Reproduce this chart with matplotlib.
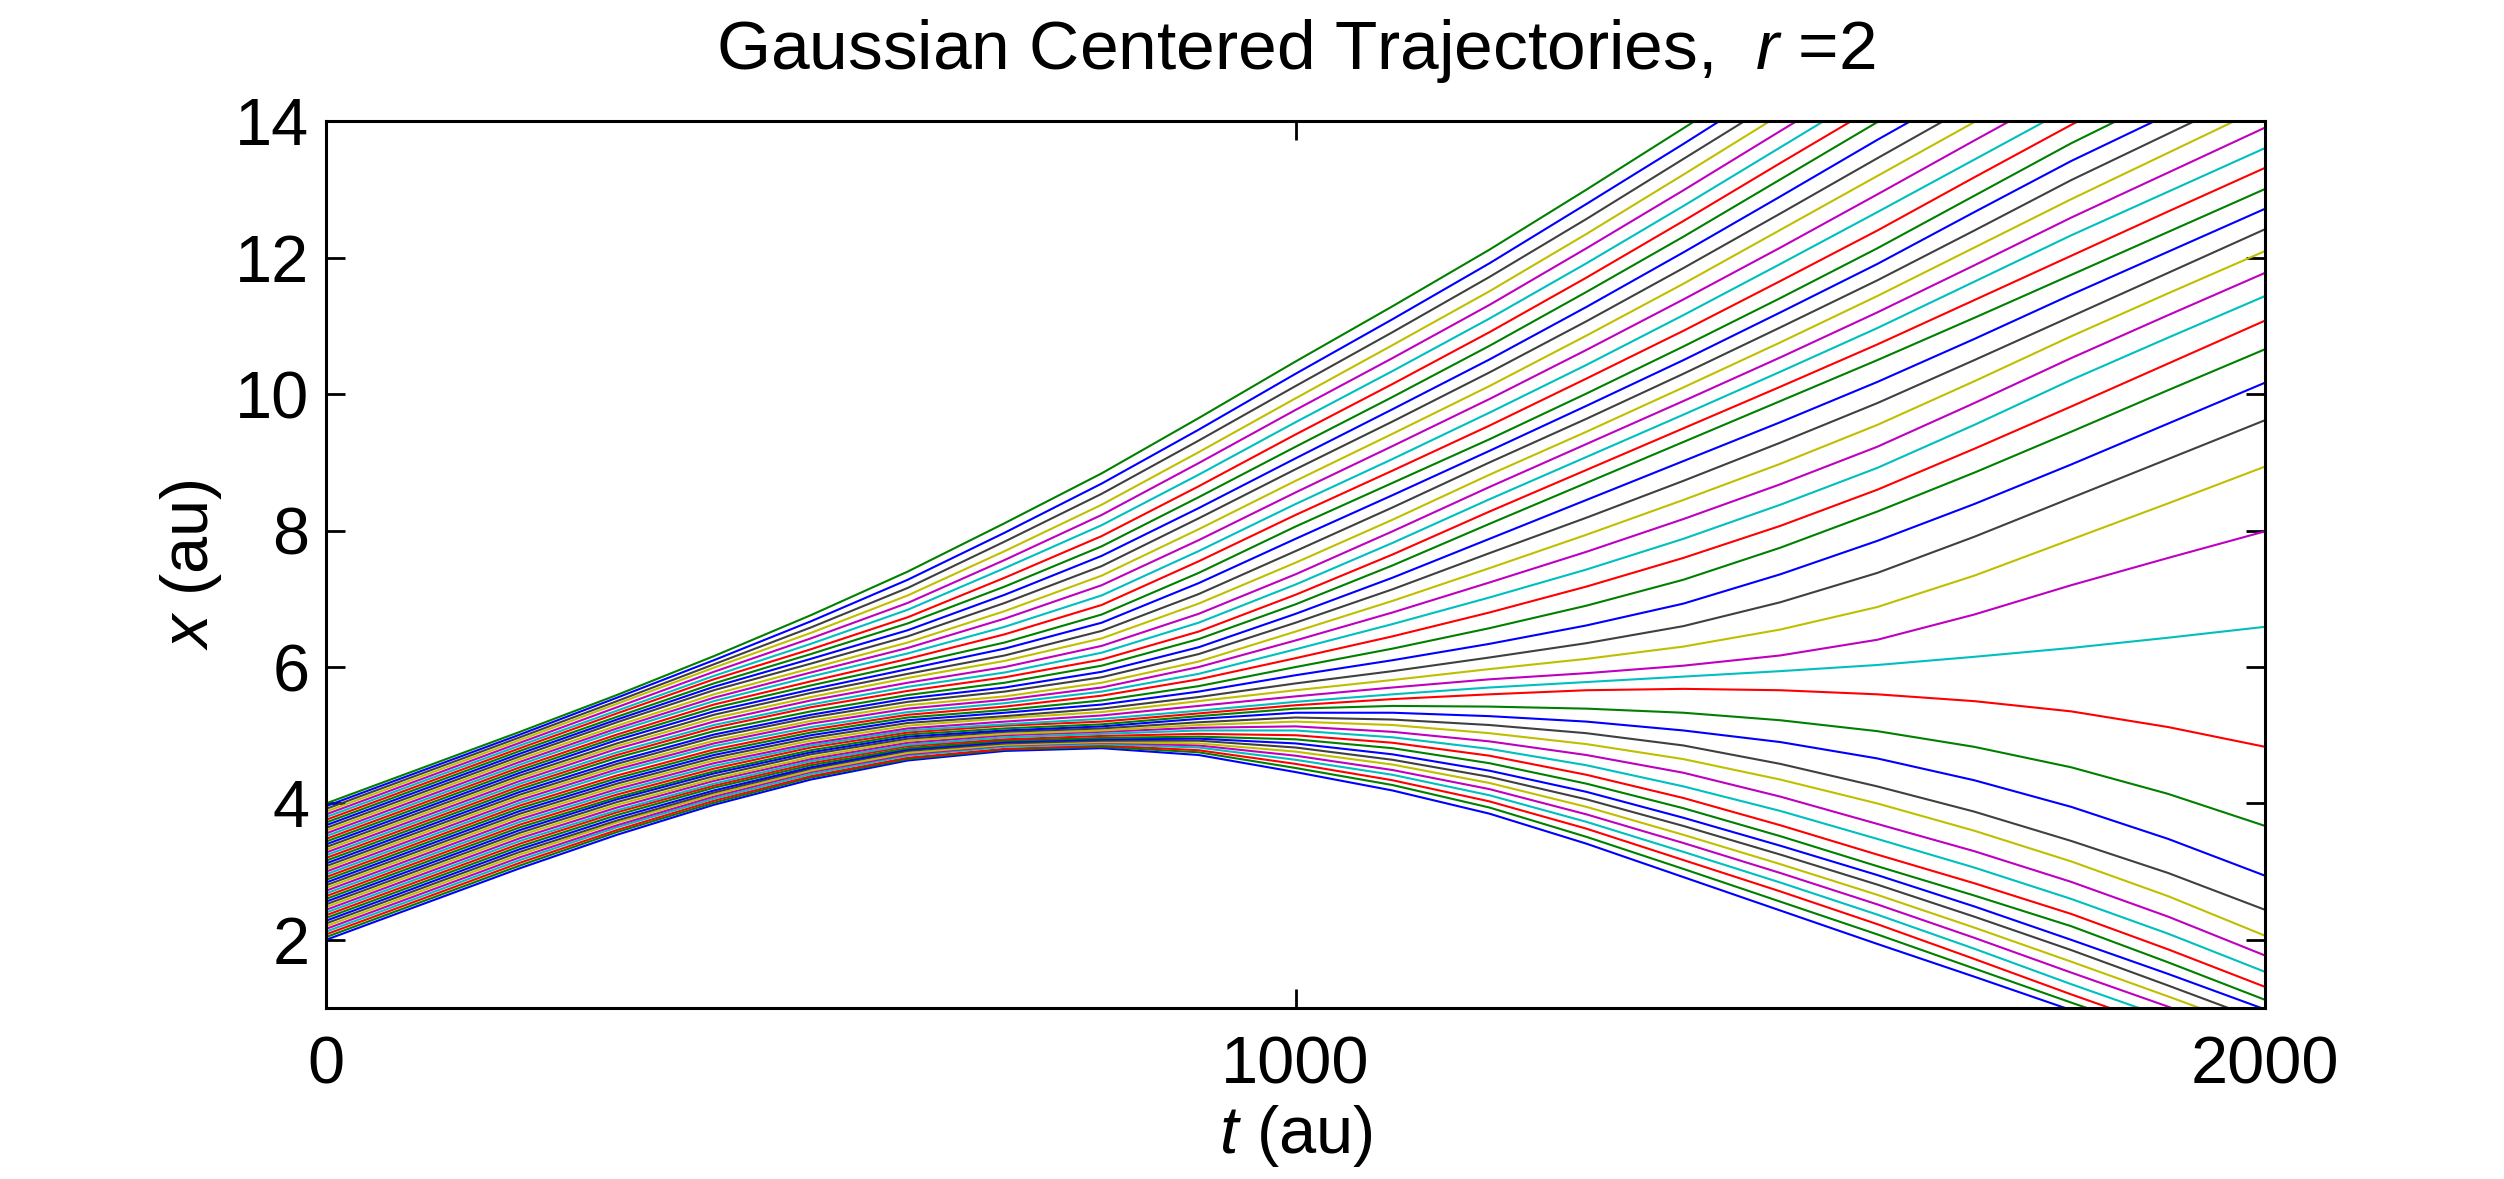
import numpy as np
import matplotlib
matplotlib.use("Agg")
import matplotlib.pyplot as plt

plt.rcParams['font.family'] = ['Liberation Sans', 'DejaVu Sans']
plt.rcParams['mathtext.fontset'] = 'custom'
plt.rcParams['mathtext.rm'] = 'Liberation Sans'
plt.rcParams['mathtext.it'] = 'Liberation Sans:italic'

# sample times (au)
t_au = [0, 200, 300, 400, 500, 600, 700, 800, 900, 1000, 1100, 1200, 1300, 1400, 1500, 1600, 1700, 1800, 1900, 2000]

# trajectory positions x (au) at each sample time, trajectory 0 (lowest) .. 50 (highest)
x_t0000 = [2.00, 2.04, 2.08, 2.12, 2.16, 2.20, 2.24, 2.28, 2.32, 2.36, 2.40, 2.44, 2.48, 2.52, 2.56, 2.60, 2.64,
           2.68, 2.72, 2.76, 2.80, 2.84, 2.88, 2.92, 2.96, 3.00, 3.04, 3.08, 3.12, 3.16, 3.20, 3.24, 3.28, 3.32,
           3.36, 3.40, 3.44, 3.48, 3.52, 3.56, 3.60, 3.64, 3.68, 3.72, 3.76, 3.80, 3.84, 3.88, 3.92, 3.96, 4.00]
x_t0200 = [3.05, 3.09, 3.13, 3.17, 3.21, 3.25, 3.29, 3.33, 3.37, 3.41, 3.45, 3.49, 3.53, 3.57, 3.61, 3.65, 3.69,
           3.73, 3.77, 3.81, 3.85, 3.89, 3.93, 3.97, 4.01, 4.05, 4.09, 4.13, 4.17, 4.21, 4.25, 4.29, 4.33, 4.37,
           4.41, 4.45, 4.49, 4.53, 4.57, 4.61, 4.65, 4.69, 4.73, 4.77, 4.81, 4.85, 4.89, 4.93, 4.97, 5.01, 5.05]
x_t0300 = [3.54, 3.58, 3.61, 3.65, 3.68, 3.72, 3.75, 3.79, 3.83, 3.87, 3.90, 3.94, 3.98, 4.02, 4.06, 4.09, 4.13,
           4.17, 4.21, 4.25, 4.29, 4.33, 4.37, 4.41, 4.46, 4.50, 4.54, 4.58, 4.62, 4.67, 4.71, 4.75, 4.80, 4.84,
           4.88, 4.93, 4.97, 5.01, 5.06, 5.10, 5.14, 5.19, 5.23, 5.27, 5.32, 5.36, 5.41, 5.46, 5.50, 5.55, 5.59]
x_t0400 = [3.98, 4.01, 4.04, 4.07, 4.10, 4.13, 4.16, 4.19, 4.23, 4.26, 4.29, 4.33, 4.36, 4.40, 4.44, 4.47, 4.51,
           4.55, 4.59, 4.63, 4.67, 4.71, 4.75, 4.79, 4.84, 4.88, 4.92, 4.97, 5.01, 5.06, 5.11, 5.15, 5.20, 5.25,
           5.30, 5.35, 5.40, 5.45, 5.50, 5.55, 5.60, 5.66, 5.71, 5.76, 5.82, 5.87, 5.93, 5.99, 6.04, 6.10, 6.16]
x_t0500 = [4.35, 4.38, 4.40, 4.43, 4.46, 4.48, 4.51, 4.53, 4.56, 4.59, 4.62, 4.65, 4.68, 4.72, 4.75, 4.78, 4.82,
           4.85, 4.88, 4.92, 4.96, 5.00, 5.04, 5.08, 5.12, 5.17, 5.21, 5.26, 5.30, 5.35, 5.41, 5.45, 5.51, 5.56,
           5.62, 5.67, 5.73, 5.79, 5.86, 5.92, 5.98, 6.05, 6.12, 6.19, 6.26, 6.34, 6.42, 6.50, 6.58, 6.67, 6.76]
x_t0600 = [4.63, 4.65, 4.67, 4.70, 4.72, 4.74, 4.77, 4.79, 4.81, 4.84, 4.86, 4.89, 4.92, 4.95, 4.98, 5.01, 5.04,
           5.07, 5.10, 5.14, 5.18, 5.22, 5.26, 5.30, 5.34, 5.39, 5.44, 5.49, 5.54, 5.59, 5.65, 5.71, 5.77, 5.84,
           5.90, 5.97, 6.04, 6.12, 6.20, 6.28, 6.36, 6.45, 6.54, 6.64, 6.73, 6.84, 6.94, 7.05, 7.16, 7.28, 7.40]
x_t0700 = [4.77, 4.79, 4.80, 4.83, 4.85, 4.86, 4.88, 4.90, 4.92, 4.94, 4.97, 5.00, 5.02, 5.05, 5.07, 5.10, 5.14,
           5.16, 5.20, 5.25, 5.28, 5.33, 5.37, 5.42, 5.47, 5.52, 5.57, 5.64, 5.70, 5.77, 5.85, 5.92, 6.00, 6.09,
           6.17, 6.27, 6.36, 6.48, 6.59, 6.71, 6.82, 6.94, 7.06, 7.18, 7.31, 7.45, 7.57, 7.70, 7.84, 7.97, 8.11]
x_t0800 = [4.81, 4.83, 4.85, 4.87, 4.89, 4.90, 4.92, 4.94, 4.96, 4.99, 5.02, 5.05, 5.07, 5.10, 5.13, 5.16, 5.20,
           5.24, 5.29, 5.34, 5.39, 5.45, 5.51, 5.58, 5.64, 5.70, 5.77, 5.85, 5.93, 6.02, 6.11, 6.21, 6.31, 6.42,
           6.53, 6.65, 6.77, 6.91, 7.05, 7.20, 7.34, 7.48, 7.63, 7.77, 7.92, 8.08, 8.23, 8.38, 8.54, 8.69, 8.84]
x_t0900 = [4.71, 4.75, 4.78, 4.82, 4.85, 4.88, 4.92, 4.95, 4.98, 5.02, 5.07, 5.11, 5.15, 5.19, 5.24, 5.28, 5.32,
           5.36, 5.43, 5.50, 5.56, 5.64, 5.72, 5.82, 5.90, 6.00, 6.08, 6.19, 6.29, 6.41, 6.52, 6.65, 6.78, 6.93,
           7.07, 7.23, 7.38, 7.55, 7.70, 7.86, 8.02, 8.18, 8.33, 8.49, 8.65, 8.82, 8.99, 9.15, 9.32, 9.48, 9.65]
x_t1000 = [4.46, 4.52, 4.58, 4.64, 4.70, 4.76, 4.82, 4.88, 4.94, 5.00, 5.07, 5.13, 5.20, 5.26, 5.33, 5.39, 5.44,
           5.49, 5.57, 5.66, 5.76, 5.88, 6.00, 6.13, 6.26, 6.39, 6.52, 6.65, 6.78, 6.92, 7.06, 7.21, 7.36, 7.53,
           7.70, 7.88, 8.06, 8.23, 8.39, 8.56, 8.73, 8.90, 9.06, 9.23, 9.41, 9.59, 9.77, 9.94, 10.12, 10.30, 10.48]
x_t1100 = [4.19, 4.27, 4.34, 4.42, 4.49, 4.57, 4.64, 4.72, 4.81, 4.89, 4.97, 5.05, 5.15, 5.23, 5.33, 5.43, 5.53,
           5.60, 5.70, 5.81, 5.94, 6.10, 6.27, 6.45, 6.63, 6.80, 6.97, 7.14, 7.31, 7.49, 7.65, 7.82, 7.99, 8.16,
           8.34, 8.52, 8.70, 8.88, 9.05, 9.24, 9.42, 9.60, 9.78, 9.96, 10.15, 10.34, 10.53, 10.72, 10.91, 11.10,
           11.29]
x_t1200 = [3.85, 3.94, 4.03, 4.12, 4.21, 4.30, 4.39, 4.48, 4.59, 4.70, 4.80, 4.91, 5.03, 5.15, 5.28, 5.42, 5.60,
           5.70, 5.82, 5.97, 6.14, 6.34, 6.57, 6.80, 7.02, 7.24, 7.45, 7.67, 7.88, 8.10, 8.28, 8.46, 8.64, 8.82,
           9.00, 9.17, 9.34, 9.54, 9.73, 9.93, 10.12, 10.32, 10.51, 10.71, 10.91, 11.11, 11.31, 11.51, 11.72,
           11.92, 12.12]
x_t1300 = [3.41, 3.51, 3.63, 3.73, 3.84, 3.95, 4.06, 4.17, 4.29, 4.42, 4.56, 4.71, 4.87, 5.03, 5.20, 5.39, 5.66,
           5.78, 5.91, 6.12, 6.35, 6.61, 6.90, 7.18, 7.43, 7.69, 7.94, 8.19, 8.45, 8.70, 8.89, 9.08, 9.27, 9.45,
           9.64, 9.83, 10.01, 10.23, 10.43, 10.65, 10.86, 11.07, 11.28, 11.50, 11.71, 11.92, 12.14, 12.35, 12.57,
           12.79, 13.00]
x_t1400 = [2.92, 3.04, 3.17, 3.29, 3.42, 3.54, 3.67, 3.79, 3.93, 4.08, 4.25, 4.45, 4.65, 4.85, 5.07, 5.33, 5.68,
           5.86, 6.02, 6.30, 6.60, 6.93, 7.28, 7.60, 7.88, 8.17, 8.45, 8.73, 9.02, 9.30, 9.50, 9.70, 9.90, 10.10,
           10.30, 10.50, 10.70, 10.93, 11.16, 11.39, 11.62, 11.85, 12.08, 12.31, 12.54, 12.76, 12.99, 13.22,
           13.45, 13.67, 13.90]
x_t1500 = [2.43, 2.56, 2.71, 2.84, 2.98, 3.11, 3.25, 3.38, 3.52, 3.68, 3.89, 4.10, 4.35, 4.58, 4.90, 5.22, 5.66,
           5.94, 6.17, 6.55, 6.95, 7.36, 7.75, 8.07, 8.38, 8.68, 8.98, 9.29, 9.59, 9.90, 10.11, 10.33, 10.54,
           10.76, 10.98, 11.20, 11.41, 11.66, 11.91, 12.15, 12.41, 12.65, 12.90, 13.15, 13.39, 13.62, 13.86,
           14.10, 14.33, 14.57, 14.80]
x_t1600 = [1.94, 2.08, 2.23, 2.37, 2.52, 2.66, 2.81, 2.95, 3.08, 3.25, 3.48, 3.70, 4.00, 4.25, 4.66, 5.06, 5.60,
           6.03, 6.40, 6.88, 7.38, 7.85, 8.28, 8.60, 8.92, 9.23, 9.55, 9.87, 10.18, 10.50, 10.73, 10.97, 11.20,
           11.44, 11.67, 11.91, 12.14, 12.40, 12.67, 12.93, 13.20, 13.46, 13.73, 13.99, 14.23, 14.48, 14.72,
           14.97, 15.21, 15.46, 15.70]
x_t1700 = [1.46, 1.58, 1.72, 1.87, 2.03, 2.18, 2.34, 2.49, 2.65, 2.83, 3.06, 3.30, 3.60, 3.88, 4.34, 4.83, 5.50,
           6.15, 6.77, 7.34, 7.91, 8.39, 8.85, 9.20, 9.55, 9.87, 10.19, 10.50, 10.81, 11.12, 11.38, 11.65, 11.89,
           12.15, 12.40, 12.67, 12.91, 13.18, 13.44, 13.72, 13.99, 14.26, 14.53, 14.80, 15.06, 15.32, 15.57,
           15.84, 16.10, 16.36, 16.60]
x_t1800 = [0.97, 1.08, 1.20, 1.35, 1.52, 1.68, 1.85, 2.00, 2.20, 2.38, 2.60, 2.85, 3.15, 3.45, 3.95, 4.53, 5.35,
           6.28, 7.20, 7.87, 8.48, 8.97, 9.45, 9.82, 10.21, 10.53, 10.85, 11.14, 11.46, 11.75, 12.03, 12.33,
           12.59, 12.86, 13.14, 13.42, 13.68, 13.95, 14.21, 14.50, 14.77, 15.05, 15.32, 15.60, 15.88, 16.15,
           16.42, 16.70, 16.98, 17.25, 17.50]
x_t1900 = [0.49, 0.59, 0.70, 0.85, 1.02, 1.17, 1.33, 1.50, 1.67, 1.86, 2.09, 2.34, 2.64, 2.98, 3.48, 4.14, 5.12,
           6.43, 7.60, 8.40, 9.05, 9.57, 10.06, 10.45, 10.83, 11.16, 11.48, 11.78, 12.09, 12.38, 12.68, 12.97,
           13.25, 13.54, 13.82, 14.10, 14.38, 14.66, 14.93, 15.23, 15.51, 15.80, 16.09, 16.38, 16.67, 16.95,
           17.24, 17.53, 17.82, 18.10, 18.38]
x_t2000 = [0.00, 0.10, 0.20, 0.35, 0.50, 0.65, 0.80, 0.98, 1.12, 1.31, 1.53, 1.77, 2.06, 2.44, 2.94, 3.67, 4.83,
           6.59, 7.99, 8.94, 9.62, 10.17, 10.66, 11.08, 11.44, 11.78, 12.10, 12.42, 12.72, 13.01, 13.32, 13.61,
           13.91, 14.22, 14.50, 14.78, 15.08, 15.36, 15.65, 15.95, 16.25, 16.55, 16.85, 17.15, 17.45, 17.75,
           18.05, 18.35, 18.65, 18.95, 19.25]

x_ticks = [0, 1000, 2000]
y_ticks = [2, 4, 6, 8, 10, 12, 14]

# MATLAB default line colour order
line_colors = ['#0000ff', '#008000', '#ff0000', '#00bfbf', '#bf00bf', '#bfbf00', '#404040']

X = np.array([x_t0000, x_t0200, x_t0300, x_t0400, x_t0500, x_t0600, x_t0700, x_t0800, x_t0900, x_t1000,
              x_t1100, x_t1200, x_t1300, x_t1400, x_t1500, x_t1600, x_t1700, x_t1800, x_t1900, x_t2000])

fig = plt.figure(figsize=(12.52, 5.895), dpi=200)
ax = fig.add_axes([0.1302, 0.145, 0.7744, 0.752])

for j in range(X.shape[1]):
    ax.plot(t_au, X[:, j], color=line_colors[j % 7], lw=0.75,
            solid_joinstyle='round', solid_capstyle='round')

ax.set_xlim(0, 2000)
ax.set_ylim(1, 14)
ax.set_xticks(x_ticks)
ax.set_yticks(y_ticks)
ax.tick_params(direction='in', top=True, right=True, length=7, width=1.0, labelsize=24)
ax.tick_params(axis='x', pad=10)
ax.tick_params(axis='y', pad=6)
for s in ax.spines.values():
    s.set_linewidth(1.1)

ax.set_title('Gaussian Centered Trajectories,  $r$ =2', fontsize=25, pad=19)
ax.set_xlabel('$t$ (au)', fontsize=24, labelpad=2)
ax.set_ylabel('$x$ (au)', fontsize=24, labelpad=4)

fig.savefig('out.png', dpi=200)
